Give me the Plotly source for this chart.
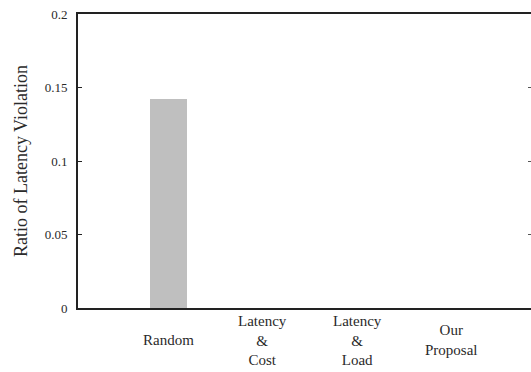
import plotly.graph_objects as go

# Ratio of latency violation per placement strategy
categories = ["Random", "Latency<br>&<br>Cost", "Latency<br>&<br>Load", "Our<br>Proposal"]
violation_ratio = [0.142, 0.0, 0.0, 0.0]
y_ticks = [0, 0.05, 0.1, 0.15, 0.2]
y_tick_text = ["0", "0.05", "0.1", "0.15", "0.2"]

serif = "Liberation Serif"
x_pos = list(range(len(categories)))

fig = go.Figure()
fig.add_trace(go.Bar(
    x=x_pos,
    y=violation_ratio,
    width=0.4,
    marker=dict(color="#bfbfbf", line=dict(width=0)),
    showlegend=False,
))
# invisible trace on a right-hand axis that only carries mirrored tick marks
fig.add_trace(go.Scatter(x=[x_pos[0]], y=[0], yaxis="y2", mode="markers",
                         marker=dict(opacity=0), hoverinfo="skip", showlegend=False))

# category labels sit vertically centred below the axis
for xi, label in zip(x_pos, categories):
    fig.add_annotation(
        x=xi, y=-0.11, xref="x", yref="paper",
        text=label, showarrow=False,
        xanchor="center", yanchor="middle",
        font=dict(family=serif, size=15, color="#2a2a2a"),
    )

fig.update_layout(
    width=531, height=372,
    margin=dict(l=78, r=0, t=14, b=64),
    paper_bgcolor="white", plot_bgcolor="white",
    bargap=0,
    yaxis=dict(
        range=[0, 0.2],
        tickvals=y_ticks, ticktext=y_tick_text,
        ticks="inside", ticklen=4, tickwidth=1, tickcolor="#222222",
        showline=True, linecolor="#222222", linewidth=2, mirror=False,
        showgrid=False, zeroline=False,
        ticklabelstandoff=6,
        tickfont=dict(family=serif, size=13, color="#2a2a2a"),
        title=dict(text="Ratio of Latency Violation", standoff=12,
                   font=dict(family=serif, size=18, color="#2a2a2a")),
    ),
    yaxis2=dict(
        range=[0, 0.2], overlaying="y", side="right",
        tickvals=y_ticks, showticklabels=False,
        ticks="inside", ticklen=3, tickwidth=1, tickcolor="#555555",
        showline=False, showgrid=False, zeroline=False,
    ),
    xaxis=dict(
        range=[-0.96, 3.84],
        showticklabels=False, ticks="",
        showline=True, linecolor="#222222", linewidth=2, mirror=True,
        showgrid=False, zeroline=False,
    ),
)

fig.write_html("out.html")
